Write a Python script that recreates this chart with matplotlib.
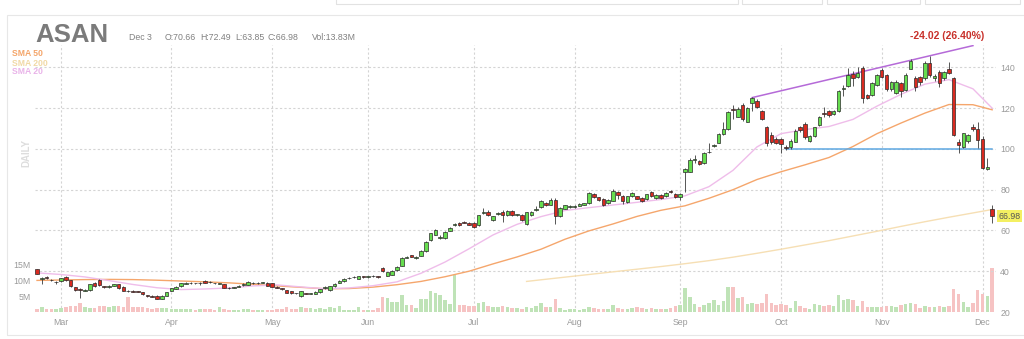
import pandas as pd
import matplotlib
matplotlib.use('Agg')
import matplotlib.pyplot as plt
from matplotlib.patches import Rectangle
from matplotlib import transforms

plt.rcParams['font.family'] = ['Liberation Sans', 'DejaVu Sans']

W, H = 1024, 339

# trading days shown (Feb 22 - Dec 3, 2021)
holidays = ['2021-04-02', '2021-05-31', '2021-07-05', '2021-09-06', '2021-11-25']
dates = pd.bdate_range('2021-02-22', '2021-12-03', freq='C', holidays=holidays)

opens = [
    40.9, 36.1, 37.3, 35.8, 34.8, 35.1, 37.3, 35.5, 32.3, 31.5,
    30.5, 30.6, 34.3, 35.9, 32.6, 32.3, 33.0, 33.6, 32.5, 30.4,
    30.3, 30.2, 29.6, 28.3, 27.9, 28.0, 26.5, 28.0, 30.3, 31.3,
    32.7, 33.9, 34.0, 34.1, 34.2, 35.3, 34.8, 34.2, 33.9, 33.6,
    32.0, 31.9, 32.3, 33.1, 33.4, 34.4, 34.1, 34.3, 34.3, 34.0,
    32.4, 31.8, 30.8, 30.3, 29.3, 27.8, 29.2, 29.0, 29.0, 29.6,
    31.8, 30.6, 32.7, 34.4, 35.0, 36.6, 37.0, 36.3, 37.5, 37.4,
    37.7, 37.6, 41.6, 37.8, 38.3, 40.4, 42.7, 46.6, 47.8, 46.3,
    47.5, 49.7, 55.3, 57.9, 56.5, 56.3, 59.9, 62.6, 63.6, 64.3,
    63.9, 63.6, 62.5, 68.4, 69.3, 65.2, 68.2, 69.3, 67.4, 69.6,
    67.5, 67.7, 63.1, 67.4, 70.0, 71.3, 73.7, 72.6, 75.0, 66.9,
    70.6, 71.3, 71.6, 72.1, 72.6, 73.4, 78.0, 76.2, 75.5, 73.4,
    74.7, 79.1, 77.0, 74.1, 77.0, 76.7, 76.0, 75.4, 79.1, 75.7,
    77.3, 77.0, 79.6, 78.0, 76.3, 88.6, 88.9, 94.5, 94.2, 93.0,
    98.4, 101.5, 103.1, 107.4, 109.7, 119.6, 115.9, 121.6, 113.4, 122.4,
    123.7, 118.7, 110.7, 106.6, 105.0, 104.8, 101.2, 100.9, 103.6, 110.8,
    112.3, 104.1, 106.5, 111.8, 117.4, 118.6, 117.0, 118.7, 129.4, 131.0,
    136.8, 135.5, 139.6, 126.4, 126.5, 131.5, 138.5, 136.3, 129.3, 127.3,
    132.2, 129.0, 139.3, 134.7, 135.5, 134.7, 142.1, 134.7, 137.6, 134.7,
    139.1, 135.0, 103.6, 100.9, 104.1, 111.0, 109.7, 104.8, 90.2, 70.66,
]
highs = [
    41.3, 37.0, 37.5, 36.0, 35.0, 36.8, 37.6, 35.7, 32.5, 31.7,
    31.2, 33.8, 34.5, 36.1, 32.9, 33.3, 33.9, 33.8, 32.7, 30.7,
    30.6, 30.5, 29.9, 28.5, 28.2, 28.2, 28.1, 29.8, 31.8, 32.7,
    34.4, 34.5, 34.5, 34.4, 34.6, 35.6, 35.0, 34.4, 34.2, 33.8,
    32.3, 32.4, 33.2, 34.1, 35.0, 34.7, 34.5, 34.8, 34.6, 34.2,
    32.6, 32.0, 31.0, 30.5, 29.5, 30.3, 29.5, 29.4, 30.2, 31.3,
    32.7, 33.0, 34.2, 35.6, 36.6, 37.2, 37.6, 37.9, 37.8, 37.9,
    38.0, 37.9, 42.0, 39.8, 40.6, 42.5, 46.9, 47.5, 48.2, 47.4,
    50.4, 54.9, 58.9, 60.7, 57.9, 59.5, 61.5, 63.6, 64.0, 64.8,
    64.3, 64.0, 67.8, 70.9, 69.8, 67.3, 69.2, 69.8, 70.0, 70.0,
    68.3, 68.0, 69.3, 69.5, 72.0, 75.0, 74.0, 75.8, 76.0, 71.3,
    72.6, 72.3, 72.5, 73.3, 73.7, 79.0, 78.5, 76.5, 75.8, 75.4,
    80.4, 79.6, 77.4, 77.0, 79.0, 77.0, 76.3, 78.0, 79.5, 77.7,
    77.7, 79.0, 80.0, 78.4, 78.4, 90.8, 95.5, 97.1, 94.7, 98.5,
    103.1, 102.6, 108.0, 113.0, 118.8, 121.6, 120.5, 122.5, 120.5, 125.5,
    124.5, 119.0, 111.5, 108.5, 105.8, 105.5, 102.0, 105.0, 109.8, 111.5,
    113.0, 107.0, 111.0, 116.0, 120.8, 119.3, 119.3, 128.8, 131.5, 139.5,
    138.0, 140.0, 140.5, 127.0, 133.0, 137.0, 139.5, 137.0, 133.5, 134.0,
    133.0, 137.5, 144.0, 136.0, 136.0, 143.0, 145.8, 137.0, 138.5, 138.0,
    142.5, 135.5, 105.0, 108.0, 107.5, 112.0, 113.3, 106.5, 95.5, 72.49,
]
lows = [
    38.5, 33.6, 36.0, 35.2, 33.8, 34.9, 35.4, 32.4, 30.1, 27.0,
    30.2, 30.4, 32.5, 33.0, 31.9, 32.0, 32.7, 31.4, 30.2, 29.8,
    29.7, 29.7, 28.5, 27.4, 27.2, 26.4, 26.3, 27.8, 30.1, 31.1,
    32.5, 33.5, 33.6, 33.5, 33.4, 34.2, 34.2, 33.7, 33.5, 31.6,
    31.5, 31.6, 32.1, 32.9, 33.2, 33.9, 33.8, 34.0, 32.8, 32.2,
    31.6, 31.0, 29.3, 29.0, 28.8, 27.5, 28.6, 28.7, 28.8, 29.4,
    31.5, 30.4, 32.5, 34.1, 34.8, 36.3, 36.8, 36.1, 36.6, 36.8,
    37.0, 36.5, 39.6, 37.5, 38.0, 40.2, 42.5, 46.3, 46.8, 46.0,
    47.3, 49.5, 55.0, 57.6, 55.8, 56.0, 59.5, 62.2, 62.2, 63.5,
    62.5, 61.2, 62.2, 68.0, 67.0, 64.8, 67.8, 64.4, 67.0, 67.0,
    67.2, 64.8, 62.8, 67.0, 69.7, 71.0, 72.2, 72.3, 63.1, 66.5,
    70.3, 70.8, 71.2, 71.8, 72.3, 73.0, 76.0, 74.5, 72.2, 73.0,
    74.3, 75.5, 73.0, 73.5, 76.6, 75.2, 74.2, 75.0, 76.3, 75.3,
    75.3, 76.6, 78.6, 75.9, 75.0, 79.1, 88.5, 93.0, 92.0, 92.5,
    98.0, 101.0, 102.8, 107.0, 109.5, 114.6, 115.5, 113.5, 113.0, 118.7,
    120.0, 114.0, 101.5, 102.5, 102.3, 98.2, 99.5, 100.2, 103.4, 108.5,
    105.0, 103.5, 106.0, 111.5, 115.9, 115.5, 116.5, 118.3, 126.0, 130.5,
    131.0, 135.0, 122.5, 124.5, 125.8, 131.0, 135.0, 128.5, 128.5, 126.8,
    125.5, 128.5, 139.0, 128.5, 131.5, 134.0, 135.5, 133.5, 130.5, 134.0,
    137.0, 106.5, 97.8, 100.5, 103.0, 109.0, 100.5, 90.0, 89.5, 63.85,
]
closes = [
    38.8, 36.8, 36.6, 35.5, 34.9, 36.6, 35.6, 32.7, 30.9, 30.6,
    30.8, 33.6, 32.7, 33.3, 32.2, 33.0, 33.5, 31.6, 30.5, 30.1,
    30.0, 30.0, 28.7, 27.7, 27.6, 26.6, 27.9, 29.6, 31.6, 32.5,
    34.1, 34.2, 34.2, 34.0, 34.3, 34.4, 34.5, 34.1, 34.0, 31.8,
    31.8, 32.1, 33.0, 33.9, 34.7, 34.1, 34.2, 34.5, 33.0, 32.4,
    31.9, 31.3, 29.5, 29.3, 29.1, 30.1, 28.9, 29.1, 29.9, 31.1,
    32.4, 32.7, 33.9, 35.3, 36.3, 36.9, 37.3, 37.6, 37.3, 37.6,
    37.5, 37.4, 39.9, 39.5, 40.3, 42.1, 46.6, 47.2, 47.0, 47.1,
    50.1, 54.5, 58.6, 60.2, 57.0, 59.2, 61.2, 63.2, 62.5, 63.9,
    62.8, 61.5, 67.5, 68.9, 67.4, 67.0, 68.8, 67.4, 69.6, 67.4,
    68.0, 65.1, 69.0, 69.0, 70.6, 74.6, 72.6, 74.9, 66.9, 71.0,
    72.3, 71.8, 72.1, 72.9, 73.4, 78.6, 76.4, 74.9, 72.6, 75.0,
    79.6, 77.3, 74.7, 76.7, 78.6, 75.5, 74.6, 77.7, 76.7, 77.3,
    75.7, 78.6, 79.0, 76.3, 78.0, 90.2, 94.7, 94.9, 92.5, 98.2,
    98.7, 102.0, 107.2, 109.7, 118.3, 118.9, 119.7, 114.6, 120.1, 124.9,
    120.5, 114.6, 102.8, 103.6, 103.0, 102.5, 100.4, 104.0, 109.0, 109.4,
    105.8, 106.4, 110.6, 115.5, 117.0, 116.8, 118.8, 128.3, 130.0, 136.4,
    134.8, 137.5, 125.0, 125.2, 132.5, 136.4, 135.5, 129.3, 133.0, 133.0,
    128.5, 136.3, 143.3, 130.3, 132.8, 142.4, 136.3, 136.0, 132.2, 137.6,
    137.5, 106.9, 102.0, 107.7, 106.9, 109.7, 104.5, 90.6, 91.0, 66.98,
]
# volume in millions of shares
volumes = [
    1.0, 1.6, 0.9, 1.0, 0.9, 1.2, 1.5, 2.0, 1.8, 2.9,
    1.6, 1.4, 1.3, 2.0, 2.0, 1.6, 2.0, 1.9, 1.6, 4.9,
    1.5, 1.5, 1.7, 1.2, 1.1, 1.4, 1.2, 1.2, 1.1, 1.0,
    0.9, 0.9, 0.8, 0.7, 0.8, 0.9, 0.8, 0.7, 1.5, 0.9,
    0.7, 0.7, 0.6, 0.8, 0.8, 0.6, 0.7, 0.6, 0.7, 0.7,
    0.8, 0.8, 1.5, 1.0, 1.0, 1.5, 1.2, 1.2, 1.0, 1.2,
    1.0, 1.5, 1.2, 2.0, 0.7, 0.7, 0.7, 1.7, 0.7, 0.7,
    0.7, 1.4, 4.9, 4.5, 3.2, 3.2, 5.4, 2.2, 2.2, 1.2,
    4.0, 4.1, 6.8, 5.9, 5.4, 3.8, 2.4, 11.9, 2.1, 2.3,
    1.9, 1.9, 3.0, 3.2, 1.8, 1.5, 1.7, 1.9, 1.5, 1.4,
    1.2, 1.1, 1.5, 1.4, 1.9, 2.8, 1.5, 1.5, 4.0, 1.2,
    0.7, 0.9, 0.8, 0.7, 0.9, 1.5, 1.2, 1.1, 1.0, 1.1,
    2.1, 1.2, 1.0, 1.1, 1.3, 1.5, 1.3, 1.0, 1.2, 0.9,
    1.0, 1.1, 1.2, 1.8, 2.2, 7.7, 4.8, 2.5, 1.7, 2.2,
    2.9, 3.8, 2.2, 3.5, 7.9, 7.9, 4.4, 4.7, 2.5, 2.9,
    2.5, 2.7, 5.6, 2.9, 2.2, 2.4, 2.1, 1.4, 3.4, 1.9,
    1.4, 1.1, 2.6, 2.2, 2.0, 2.2, 1.9, 5.3, 3.8, 4.1,
    3.8, 1.9, 3.5, 1.5, 1.5, 1.5, 1.5, 1.9, 2.0, 1.7,
    2.1, 2.4, 2.7, 2.5, 1.2, 2.0, 1.7, 1.5, 2.0, 1.7,
    1.9, 7.2, 5.7, 3.2, 1.7, 2.9, 7.0, 5.7, 5.1, 13.83,
]

# moving averages at every 5th session
sma_days = list(range(0, 200, 5)) + [199]
sma20 = [39.2, 38.4, 37.2, 35.4, 33.5, 31.9, 31.0, 31.3, 31.8, 32.8,
         33.3, 32.3, 31.4, 31.8, 32.9, 34.8, 39.0, 44.5, 51.0, 57.8,
         63.0, 66.8, 69.8, 71.2, 72.5, 73.8, 75.2, 77.0, 81.5, 89.5,
         101.0, 107.5, 109.5, 111.0, 114.5, 121.0, 126.8, 131.8, 134.0, 129.5,
         120.0]
sma50 = [35.5, 35.7, 35.9, 36.0, 35.9, 35.6, 35.2, 34.8, 34.3, 33.6,
         32.8, 32.1, 31.4, 31.5, 32.2, 33.4, 35.0, 37.3, 40.0, 43.6,
         47.0, 50.8, 55.7, 59.8, 63.2, 66.9, 69.9, 72.1, 75.8, 80.0,
         85.0, 88.8, 92.2, 95.8, 101.2, 107.5, 112.7, 117.6, 121.8, 121.7,
         119.2]
sma200_days = [102] + list(range(105, 200, 5)) + [199]
sma200 = [35.0, 35.8, 37.1, 38.4, 39.7, 41.0, 42.3, 43.7, 45.2, 46.9,
          48.8, 50.8, 52.9, 55.0, 57.3, 59.6, 62.0, 64.3, 66.5, 68.6,
          70.3]

# drawn lines: rising resistance and the 100 level
trend_days = [149, 195]
trend_vals = [125.2, 150.7]
level_days = [156, 199]
level_val = 100.2

last = dict(date='Dec 3', o=70.66, h=72.49, l=63.85, c=66.98, vol='13.83M')
change_text = '-24.02 (26.40%)'

GREEN, RED = '#66dd4f', '#d92a20'
VGREEN, VRED = '#bfe3b7', '#f6c3c3'
GRID = '#d4d4d4'
TXT = '#9a9a9a'
HDR = '#808080'

fig = plt.figure(figsize=(W / 100, H / 100), dpi=100)
fig.patch.set_facecolor('white')


def fx(x):
    return x / W


def fy(y):
    return 1 - y / H


# panel frame and the toolbar boxes peeking in at the top
fig.add_artist(Rectangle((fx(7), fy(335)), 1.0, (335 - 15) / H,
                         transform=fig.transFigure, fill=False,
                         ec='#e7e7e7', lw=0.8))
for x0, x1 in [(336, 738), (742, 822), (827, 920), (925, 1020)]:
    fig.add_artist(Rectangle((fx(x0), fy(4)), (x1 - x0) / W, 10 / H,
                             transform=fig.transFigure, fill=False,
                             ec='#e2e2e2', lw=0.8))

left, right, top, bottom = 35, 996, 45, 312
rect = [fx(left), fy(bottom), (right - left) / W, (bottom - top) / H]
axv = fig.add_axes(rect)
ax = fig.add_axes(rect, sharex=axv)
ax.patch.set_visible(False)

idx = list(range(len(dates)))
axv.set_xlim(-0.42, 199.8)
ax.set_ylim(20, 151)
axv.set_ylim(0, (bottom - top) / 3.15)

# month gridlines and labels
month_idx = [i for i in range(1, len(dates)) if dates[i].month != dates[i - 1].month]
month_lab = [dates[i].strftime('%b') for i in month_idx]
for m in month_idx:
    axv.axvline(m, color=GRID, lw=0.8, ls=(0, (2, 2)), zorder=0)
for v in range(40, 141, 20):
    ax.axhline(v, color=GRID, lw=0.8, ls=(0, (2, 2)), zorder=0)

# volume
vcol = [VGREEN if c >= o else VRED for o, c in zip(opens, closes)]
axv.bar(idx, volumes, width=0.72, color=vcol, lw=0, zorder=1)

# moving averages
ax.plot(sma200_days, sma200, color='#f6dfb4', lw=1.0, zorder=2)
ax.plot(sma_days, sma50, color='#f5a66c', lw=1.0, zorder=2)
ax.plot(sma_days, sma20, color='#efbdea', lw=1.0, zorder=2)

# drawn lines
ax.plot(trend_days, trend_vals, color='#b56ad8', lw=1.1, zorder=2)
ax.plot(level_days, [level_val, level_val], color='#5ea8e2', lw=1.1, zorder=2)

# candles
ccol = [GREEN if c >= o else RED for o, c in zip(opens, closes)]
ax.vlines(idx, lows, highs, color='#3a3a3a', lw=0.6, zorder=3)
bot = [min(o, c) for o, c in zip(opens, closes)]
hgt = [max(abs(c - o), 0.15) for o, c in zip(opens, closes)]
ax.bar(idx, hgt, bottom=bot, width=0.72, color=ccol, edgecolor='#2a2a2a',
       lw=0.5, zorder=4)

# axes cosmetics
for a in (ax, axv):
    for s in a.spines.values():
        s.set_visible(False)
ax.yaxis.tick_right()
ax.set_yticks(range(20, 141, 20))
ax.tick_params(axis='y', length=0, pad=3, labelsize=6.3, labelcolor=TXT)
ax.tick_params(axis='x', length=0, labelbottom=False)
axv.set_yticks([5, 10, 15], ['5M', '10M', '15M'])
axv.tick_params(axis='y', length=0, pad=3, labelsize=6.3, labelcolor=TXT)
axv.set_xticks(month_idx, month_lab)
axv.tick_params(axis='x', length=0, pad=4, labelsize=6.3, labelcolor=TXT)

# last price tag
tr = transforms.blended_transform_factory(ax.transAxes, ax.transData)
ax.text(1.0025, last['c'], f"{last['c']:.2f}", transform=tr, ha='left',
        va='center', fontsize=6.3, color='#555555',
        bbox=dict(boxstyle='square,pad=0.15', fc='#f4f062', ec='none'))

# header texts
fig.text(fx(35), fy(41.5), 'ASAN', fontsize=18.5, fontweight='bold',
         color='#7b7b7b', va='baseline')
fig.text(fx(129), fy(39.5), last['date'], fontsize=6.3, color=HDR, va='baseline')
fig.text(fx(165), fy(39.5), f"O:{last['o']:.2f}", fontsize=6.3, color=HDR, va='baseline')
fig.text(fx(200), fy(39.5), f"H:{last['h']:.2f}", fontsize=6.3, color=HDR, va='baseline')
fig.text(fx(235), fy(39.5), f"L:{last['l']:.2f}", fontsize=6.3, color=HDR, va='baseline')
fig.text(fx(268), fy(39.5), f"C:{last['c']:.2f}", fontsize=6.3, color=HDR, va='baseline')
fig.text(fx(312), fy(39.5), f"Vol:{last['vol']}", fontsize=6.3, color=HDR, va='baseline')
fig.text(fx(947), fy(36), change_text, fontsize=7.5, fontweight='bold',
         color='#c8312b', ha='center', va='center')

fig.text(fx(12), fy(53), 'SMA 50', fontsize=6.2, fontweight='bold', color='#f4a56a', va='center')
fig.text(fx(12), fy(63), 'SMA 200', fontsize=6.2, fontweight='bold', color='#f1d9a6', va='center')
fig.text(fx(12), fy(72), 'SMA 20', fontsize=6.2, fontweight='bold', color='#e9b3e9', va='center')
fig.text(fx(26), fy(153), 'DAILY', fontsize=7, fontweight='bold', color='#dddddd',
         rotation=90, ha='center', va='center')

fig.savefig('out.png', dpi=100, facecolor='white')
